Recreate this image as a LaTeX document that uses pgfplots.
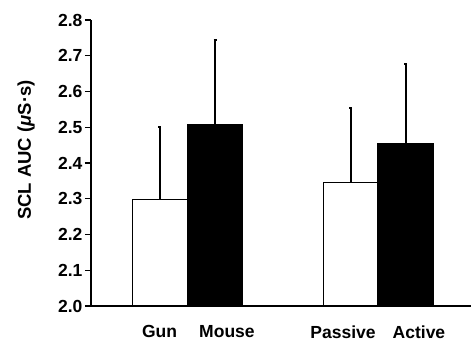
\documentclass[border=0pt]{standalone}
\usepackage{fontspec}
\setmainfont{Liberation Sans}
\usepackage{pgfplots}
\pgfplotsset{compat=1.18}
\begin{document}
\begin{tikzpicture}[x=1pt,y=1pt]
\path[use as bounding box] (0,0) rectangle (471,344);
\begin{axis}[
  at={(91pt,38pt)}, anchor=south west,
  scale only axis, width=380pt, height=286pt,
  xmin=0, xmax=1.979, ymin=2.0, ymax=2.8,
  axis x line=bottom, axis y line=left,
  axis line style={line width=1.4pt, -},
  ytick={2.0,2.1,2.2,2.3,2.4,2.5,2.6,2.7,2.8},
  yticklabel style={font=\bfseries\fontsize{17.5}{17.5}\selectfont, xshift=1pt,
    /pgf/number format/fixed, /pgf/number format/fixed zerofill,
    /pgf/number format/precision=1, /pgf/number format/assume math mode=true},
  xticklabel style={font=\bfseries\fontsize{17.5}{17.5}\selectfont, yshift=-10pt},
  tick align=outside,
  major tick length=6pt,
  every tick/.style={black, line width=1.4pt},
  xtick={0.357,0.708,1.3125,1.708},
  xticklabels={Gun,Mouse,Passive,Active},
  major x tick style={draw=none},
  extra x ticks={1},
  extra x tick labels={},
  extra x tick style={major x tick style={black, line width=1.4pt}},
  ylabel={\bfseries SCL AUC ({\itshape μ}S·s)},
  ylabel style={font=\fontsize{18.5}{18.5}\selectfont, at={(axis description cs:-0.171,0.545)}, anchor=center},
  clip=true,
]
\addplot[ybar, bar width=0.286, bar shift=0pt, fill=white, draw=black, line width=1.3pt,
  error bars/.cd, y dir=plus, y explicit,
  error bar style={line width=2pt},
  error mark options={rotate=90, mark size=1.5pt, line width=2pt}]
  coordinates {(0.358,2.298) +- (0,0.202) (1.353,2.345) +- (0,0.210)};
\addplot[ybar, bar width=0.286, bar shift=0pt, fill=black, draw=black, line width=1.3pt,
  error bars/.cd, y dir=plus, y explicit,
  error bar style={line width=2pt},
  error mark options={rotate=90, mark size=1.5pt, line width=2pt}]
  coordinates {(0.647,2.508) +- (0,0.236) (1.638,2.453) +- (0,0.223)};
\end{axis}
\end{tikzpicture}
\end{document}
